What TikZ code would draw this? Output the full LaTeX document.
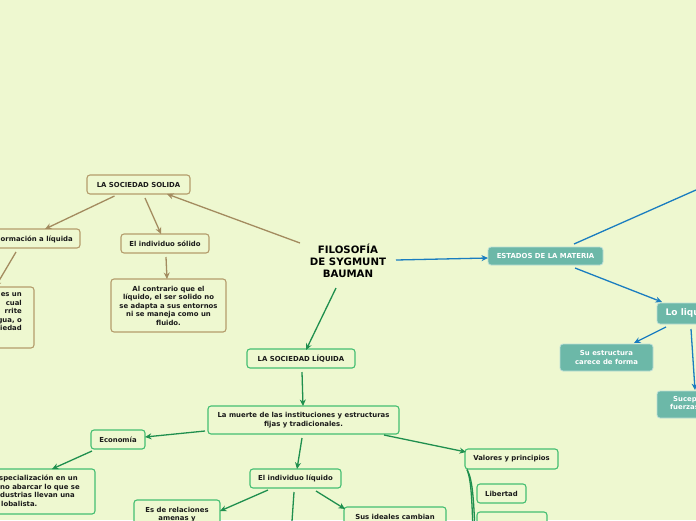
\documentclass[tikz,border=0pt]{standalone}
\usepackage{fontspec}
\setmainfont{DejaVu Sans}
\usetikzlibrary{arrows.meta}
\definecolor{bgc}{HTML}{EEF8D0}
\definecolor{brn}{HTML}{A38B5F}
\definecolor{brnb}{HTML}{B49C6C}
\definecolor{grn}{HTML}{1F8F4E}
\definecolor{grnb}{HTML}{45BE72}
\definecolor{blu}{HTML}{1A7DC0}
\definecolor{tealc}{HTML}{6CB8A8}
\definecolor{txtc}{HTML}{1A1A1A}
\newcommand\mfs{\fontsize{6.9}{8.5}\selectfont\bfseries}
\newcommand\tfs{\fontsize{10.2}{12}\selectfont\bfseries}
\tikzset{
 box/.style={rectangle, rounded corners=3pt, line width=1.1pt, inner sep=0pt, font=\mfs, text=txtc, align=center},
 bbox/.style={box, draw=brnb, fill=bgc},
 gbox/.style={box, draw=grnb, fill=bgc},
 tbox/.style={box, draw=white!55!tealc, fill=tealc, text=white, line width=0.8pt},
 lbl/.style={inner sep=0pt, font=\mfs, text=txtc},
 arr/.style={line width=1.3pt, -{Stealth[length=6.5pt,width=6pt]}},
 bedge/.style={arr, draw=brn},
 gedge/.style={arr, draw=grn},
 tedge/.style={arr, draw=blu},
}
\begin{document}
\begin{tikzpicture}[x=1pt,y=-1pt]
\fill[bgc] (0,0) rectangle (696,520);
\useasboundingbox (0,0) rectangle (696,520);
\clip (0,0) rectangle (696,520);

% title
\node[inner sep=0pt, font=\tfs, text=black, align=center] (TIT) at (348,261) {FILOSOF\'IA\\DE SYGMUNT\\BAUMAN};

% brown branch
\node[bbox, minimum width=103pt, minimum height=19pt] (SOL) at (138.5,184.5) {LA SOCIEDAD SOLIDA};
\node[bbox, minimum width=120pt, minimum height=19pt] (TRA) at (20,238.5) {};
\node[lbl, anchor=east] (TRAt) at (73,239) {ormación a líquida};
\node[bbox, minimum width=88pt, minimum height=19pt] (IND) at (165,243.5) {El individuo sólido};
\node[bbox, minimum width=115pt, minimum height=53pt] (ALC) at (168.5,305.5) {Al contrario que el\\líquido, el ser solido no\\se adapta a sus entornos\\ni se maneja como un\\fluido.};
\node[bbox, minimum width=114pt, minimum height=61pt] (LFT) at (-23,317.5) {};
\node[lbl, anchor=north east, align=right] (LFTt) at (22,292.5) {es un\\cual\hspace*{2pt}\\rrite\hspace*{3pt}\\gua, o\\ciedad};

\draw[bedge] ([shift={(-48,-18)}]TIT.center) -- ([shift={(28.5,9.5)}]SOL.center);
\draw[bedge] ([shift={(-24,11.5)}]SOL.center) -- ([shift={(25,-9.5)}]TRA.center);
\draw[bedge] ([shift={(6.5,13.5)}]SOL.center) -- ([shift={(-4,-9.5)}]IND.center);
\draw[bedge] ([shift={(1,13.5)}]IND.center) -- ([shift={(-1.5,-26.5)}]ALC.center);
\draw[bedge] ([shift={(-4,13.5)}]TRA.center) -- ([shift={(18.3,-30.5)}]LFT.center);

% green branch
\node[gbox, minimum width=108pt, minimum height=19pt] (LIQ) at (301,358.5) {LA SOCIEDAD LÍQUIDA};
\node[gbox, minimum width=191pt, minimum height=28pt] (MUE) at (303.5,420) {La muerte de las instituciones y estructuras\\fijas y tradicionales.};
\node[gbox, minimum width=54pt, minimum height=19pt] (ECO) at (118,439.5) {Economía};
\node[gbox, minimum width=155pt, minimum height=45pt] (ESP) at (17.5,491.5) {};
\node[lbl, anchor=north west, align=left] (ESPt) at (-1,475) {specialización en un\\\hspace*{1pt}no abarcar lo que se\\\hspace*{1pt}dustrias llevan una\\\hspace*{2pt}lobalista.};
\node[gbox, minimum width=93pt, minimum height=20pt] (VAL) at (511.5,459) {Valores y principios};
\node[gbox, minimum width=49pt, minimum height=19pt] (LIB) at (501.5,493.5) {Libertad};
\node[gbox, minimum width=70pt, minimum height=28pt] (BLK) at (512,526) {};
\node[gbox, minimum width=91pt, minimum height=19pt] (INL) at (295.5,478.5) {El individuo líquido};
\node[gbox, minimum width=86pt, minimum height=40pt] (REL) at (177,520) {};
\node[lbl, anchor=north, align=center] (RELt) at (177,507) {Es de relaciones\\amenas y};
\node[gbox, minimum width=102pt, minimum height=38pt] (SUS) at (395,526) {};
\node[lbl, anchor=north] (SUSt) at (395,514) {Sus ideales cambian};
\coordinate (OFF1) at (289,565);
\coordinate (OFF2) at (476,560);
\coordinate (OFF3) at (474,560);

\draw[gedge] ([shift={(-12,27)}]TIT.center) -- ([shift={(5,-8.5)}]LIQ.center);
\draw[gedge] ([shift={(1,13.5)}]LIQ.center) -- ([shift={(-0.5,-14)}]MUE.center);
\draw[gedge] ([shift={(-98.5,11)}]MUE.center) -- ([shift={(27,-2.5)}]ECO.center);
\draw[gedge] ([shift={(-26,11.5)}]ECO.center) -- ([shift={(34.5,-22.5)}]ESP.center);
\draw[gedge] ([shift={(-1.5,18)}]MUE.center) -- ([shift={(1.5,-9.5)}]INL.center);
\draw[gedge] ([shift={(80.5,15)}]MUE.center) -- ([shift={(-45.5,-7)}]VAL.center);
\draw[gedge] ([shift={(-27.5,11.5)}]INL.center) -- ([shift={(43,-9)}]REL.center);
\draw[gedge] ([shift={(20.5,12.5)}]INL.center) -- ([shift={(-50,-17)}]SUS.center);
\draw[gedge] ([shift={(-1.5,13.5)}]INL.center) -- (OFF1);
\draw[grn, line width=1.3pt] ([shift={(-44.5,10.5)}]VAL.center) .. controls (473,480) and (474,500) .. (OFF2);
\draw[grn, line width=1.3pt] ([shift={(-44.5,10.5)}]VAL.center) .. controls (472,482) and (472,505) .. (OFF3);

% blue branch
\node[tbox, minimum width=115pt, minimum height=18pt] (EST) at (545.5,256) {ESTADOS DE LA MATERIA};
\node[tbox, minimum width=83pt, minimum height=21pt] (LOL) at (698.5,313.5) {};
\node[inner sep=0pt, anchor=west, font=\fontsize{9}{11}\selectfont\bfseries, text=white] (LOLt) at (665.5,313.5) {Lo liqu};
\node[tbox, minimum width=93pt, minimum height=27pt] (SUE) at (606.5,357.5) {Su estructura\\carece de forma};
\node[tbox, minimum width=83pt, minimum height=27pt] (SUC) at (698.5,404.5) {};
\node[lbl, text=white, anchor=north west, align=left] (SUCt) at (670,396) {\hspace*{3pt}Sucep\\fuerzas};
\coordinate (OFF4) at (740,170.5);

\draw[tedge] ([shift={(48,-1)}]TIT.center) -- ([shift={(-57.5,2)}]EST.center);
\draw[tedge] ([shift={(28.5,-12)}]EST.center) -- (OFF4);
\draw[tedge] ([shift={(29.5,12)}]EST.center) -- ([shift={(-36.5,-11.5)}]LOL.center);
\draw[tedge] ([shift={(-32.5,13.5)}]LOL.center) -- ([shift={(27.5,-14.5)}]SUE.center);
\draw[tedge] ([shift={(-7.5,15.5)}]LOL.center) -- ([shift={(-3.5,-14.5)}]SUC.center);
\end{tikzpicture}
\end{document}
